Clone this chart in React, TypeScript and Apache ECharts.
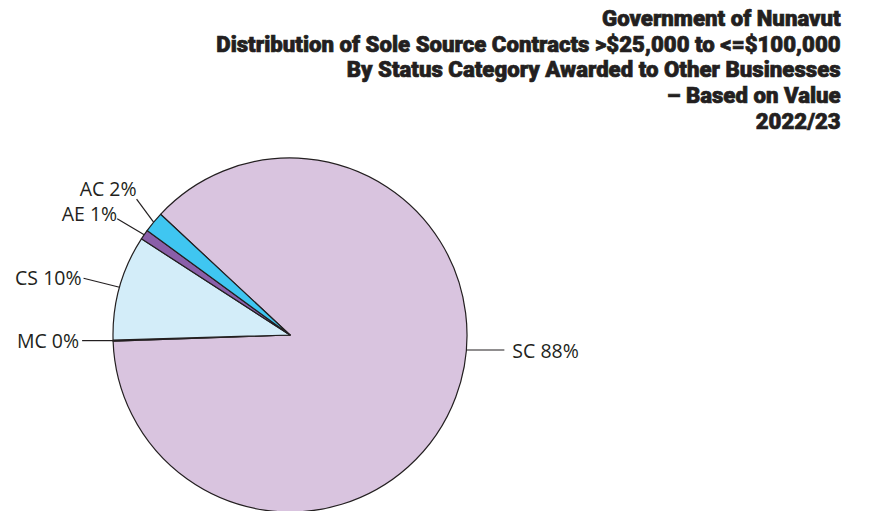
import React, { useEffect, useRef } from "react";
import * as echarts from "echarts";

const titleLines = [
  "Government of Nunavut",
  "Distribution of Sole Source Contracts >$25,000 to <=$100,000",
  "By Status Category Awarded to Other Businesses",
  "– Based on Value",
  "2022/23",
];
const categories = ["SC", "MC", "CS", "AE", "AC"];
const values = [87.5, 0.1, 9.6, 0.9, 1.9];
const colors = ["#d9c4df", "#d9c4df", "#d3edf9", "#8a5fa9", "#3fc6f1"];

const CX = 290;
const CY = 335;
const R = 177;
const START = 137;

// label styling: leader-line end offset from slice edge, text vertical shift, gap
const labelStyle: Record<string, { dx: number; dy: number; ty: number; gap: number }> = {
  SC: { dx: 38, dy: 0, ty: 0, gap: 8 },
  MC: { dx: -31, dy: 0, ty: 0, gap: 3 },
  CS: { dx: -36, dy: -9, ty: -1, gap: 2 },
  AE: { dx: -27, dy: -16, ty: -5, gap: 0 },
  AC: { dx: -17, dy: -23, ty: -11, gap: 0 },
};

export default function App() {
  const ref = useRef<HTMLDivElement>(null);
  useEffect(() => {
    if (!ref.current) return;
    const chart = echarts.init(ref.current, undefined, { renderer: "svg" });
    const total = values.reduce((a, b) => a + b, 0);
    const mids: number[] = [];
    let acc = 0;
    values.forEach((v) => {
      const a0 = START - (acc / total) * 360;
      acc += v;
      const a1 = START - (acc / total) * 360;
      mids.push((a0 + a1) / 2);
    });
    chart.setOption({
      animation: false,
      backgroundColor: "#ffffff",
      graphic: [
        {
          type: "text",
          right: 30,
          top: 5,
          style: {
            text: titleLines.join("\n"),
            textAlign: "right",
            fontFamily: "Roboto",
            fontWeight: 900,
            fontSize: 22.2,
            lineHeight: 25.7,
            fill: "#231f20",
            stroke: "#231f20",
            lineWidth: 0.7,
          },
        },
      ],
      series: [
        {
          type: "pie",
          center: [CX, CY],
          radius: R,
          startAngle: START,
          clockwise: true,
          avoidLabelOverlap: false,
          itemStyle: { borderColor: "#231f20", borderWidth: 1.2 },
          label: {
            show: true,
            position: "outside",
            fontFamily: "Open Sans",
            fontSize: 19.5,
            lineHeight: 22,
            color: "#231f20",
            formatter: (p: any) => `${p.name} ${Math.round(p.percent)}%`,
          },
          labelLine: {
            show: true,
            length: 30,
            length2: 0,
            lineStyle: { color: "#231f20", width: 1.2 },
          },
          labelLayout: (params: any) => {
            const i = params.dataIndex;
            const s = labelStyle[categories[i]];
            let ex: number;
            let ey: number;
            if (categories[i] === "SC") {
              const dy = 15;
              ex = CX + Math.sqrt(R * R - dy * dy);
              ey = CY + dy;
            } else {
              const a = (mids[i] * Math.PI) / 180;
              ex = CX + R * Math.cos(a);
              ey = CY - R * Math.sin(a);
            }
            const lx = ex + s.dx;
            const ly = ey + s.dy;
            const left = s.dx > 0;
            return {
              x: left ? lx + s.gap : lx - s.gap,
              y: ly + s.ty,
              align: left ? "left" : "right",
              verticalAlign: "middle",
              labelLinePoints: [
                [ex, ey],
                [(ex + lx) / 2, (ey + ly) / 2],
                [lx, ly],
              ],
            };
          },
          data: categories.map((name, i) => ({
            name,
            value: values[i],
            itemStyle: { color: colors[i] },
          })),
        },
      ],
    });
    return () => chart.dispose();
  }, []);
  return (
    <div
      ref={ref}
      style={{ position: "fixed", left: 0, top: 0, width: 871, height: 511 }}
    />
  );
}
